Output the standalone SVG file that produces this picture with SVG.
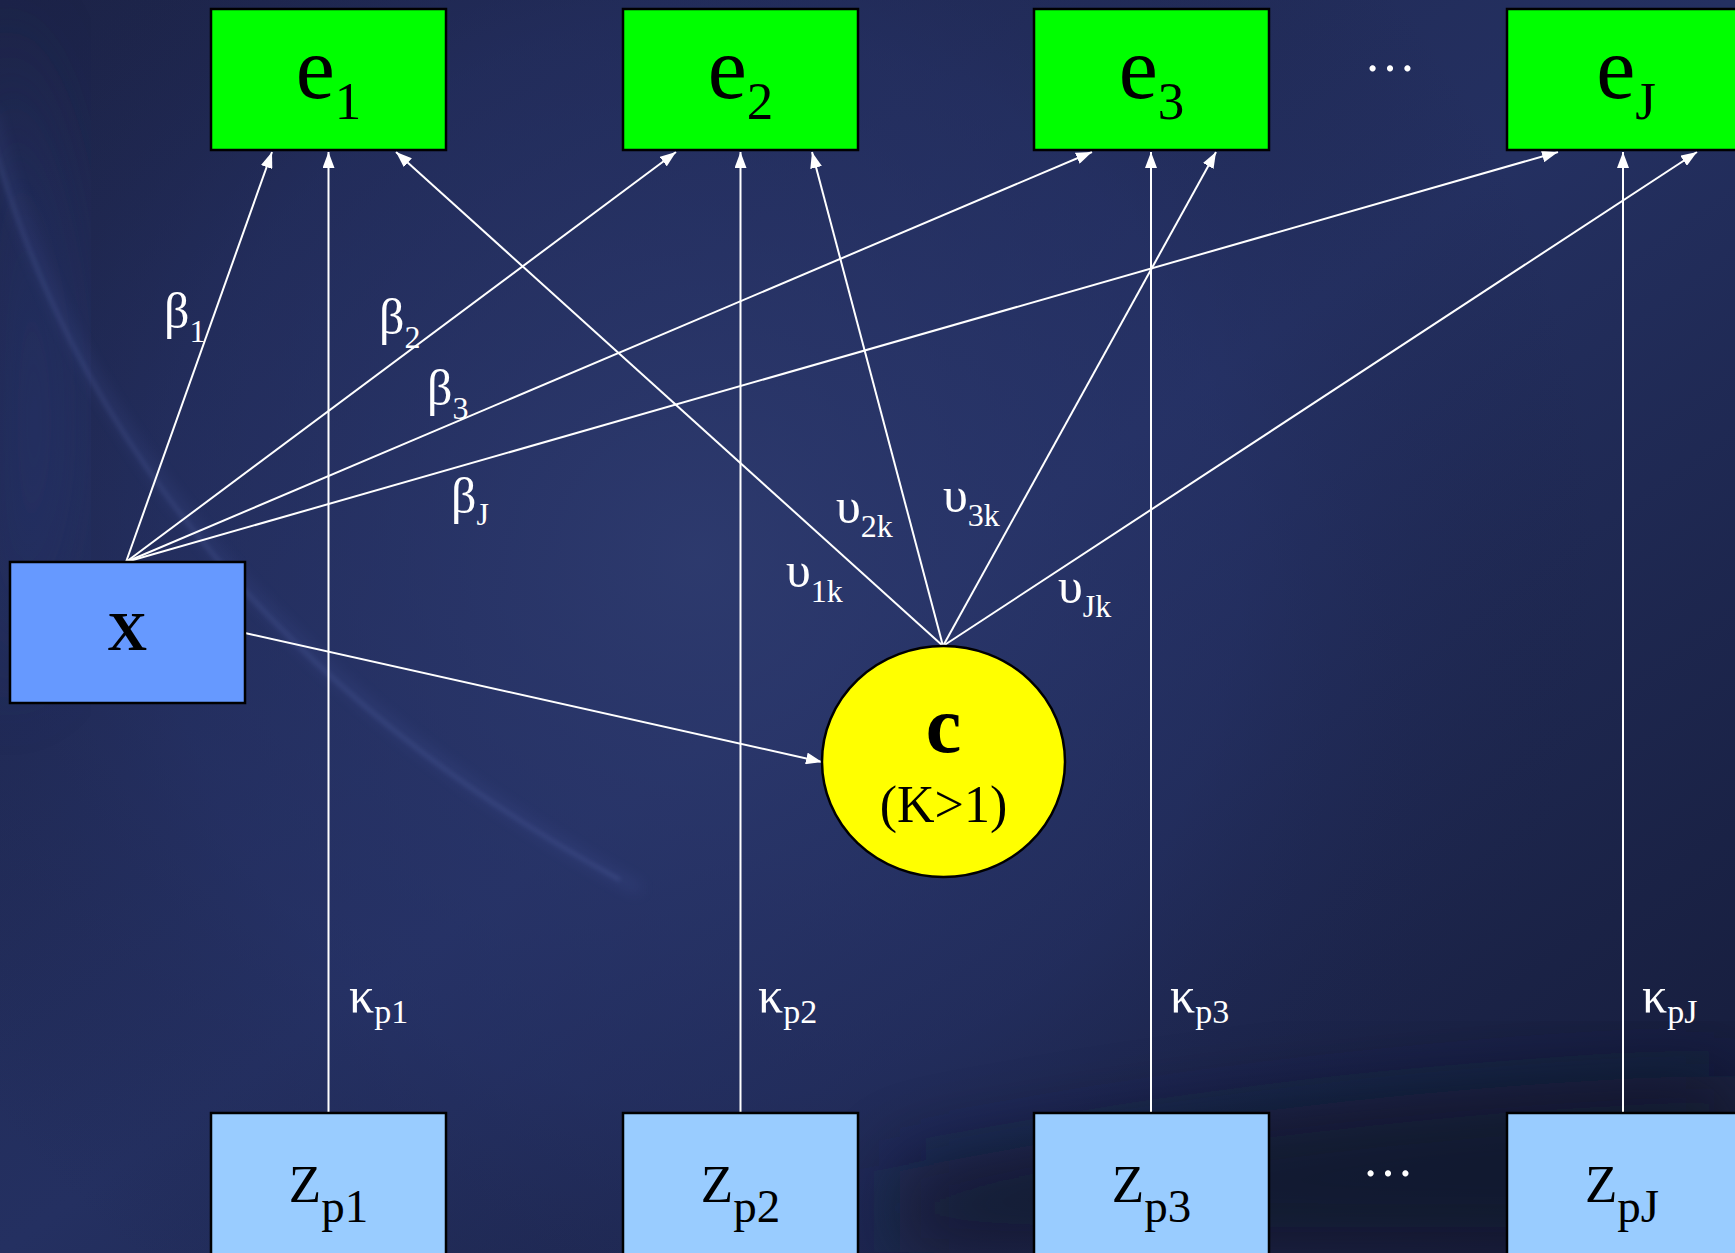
<svg xmlns="http://www.w3.org/2000/svg" width="1735" height="1253" viewBox="0 0 1735 1253">
  <defs>
    <linearGradient id="bgLin" x1="0" y1="0" x2="1" y2="1">
      <stop offset="0" stop-color="#1c2347"/>
      <stop offset="0.5" stop-color="#243061"/>
      <stop offset="1" stop-color="#151b38"/>
    </linearGradient>
    <radialGradient id="bgGlow" cx="700" cy="560" r="900" gradientUnits="userSpaceOnUse">
      <stop offset="0" stop-color="#2e3b6f" stop-opacity="0.9"/>
      <stop offset="0.6" stop-color="#27336a" stop-opacity="0.4"/>
      <stop offset="1" stop-color="#1a2045" stop-opacity="0"/>
    </radialGradient>
    <filter id="blur8" x="-20%" y="-20%" width="140%" height="140%">
      <feGaussianBlur stdDeviation="8"/>
    </filter>
    <filter id="blur3" x="-20%" y="-20%" width="140%" height="140%">
      <feGaussianBlur stdDeviation="2.5"/>
    </filter>
    <filter id="blur40" x="-30%" y="-30%" width="160%" height="160%">
      <feGaussianBlur stdDeviation="40"/>
    </filter>
    <marker id="arr" viewBox="0 0 16 12" refX="16" refY="6" markerWidth="16" markerHeight="12" markerUnits="userSpaceOnUse" orient="auto">
      <path d="M0,0 L16,6 L0,12 z" fill="#ffffff"/>
    </marker>
    <style>
      .conn line { stroke: #ffffff; stroke-width: 2; marker-end: url(#arr); }
      .box { stroke: #000000; stroke-width: 2.5; }
      .eBox { fill: #00ff00; }
      .zBox { fill: #99ccff; }
      .xBox { fill: #6699ff; }
      .node text { font-family: "Liberation Serif", "Times New Roman", serif; fill: #000000; text-anchor: middle; }
      .lbl { font-family: "Liberation Serif", "Times New Roman", serif; fill: #ffffff; }
    </style>
  </defs>

  <!-- background -->
  <g id="background">
    <rect x="0" y="0" width="1735" height="1253" fill="url(#bgLin)"/>
    <rect x="0" y="0" width="1735" height="1253" fill="url(#bgGlow)"/>
    <path d="M0,0 L0,700 C120,500 60,250 0,0 z" fill="#2c3a78" opacity="0.5" filter="url(#blur40)"/>
    <path d="M900,1170 C1200,1110 1500,1080 1735,1075 L1735,1253 L900,1253 z" fill="#0d1228" opacity="0.65" filter="url(#blur40)"/>
    <path d="M-10,110 C40,330 200,650 640,890" fill="none" stroke="#5468b8" stroke-width="6" opacity="0.3" filter="url(#blur8)"/>
    <path d="M-10,130 C45,340 200,650 620,880" fill="none" stroke="#7d8fd8" stroke-width="2" opacity="0.3" filter="url(#blur3)"/>
  </g>

  <!-- connectors -->
  <g id="connectors" class="conn">
    <line x1="126" y1="562" x2="272" y2="152"/>
    <line x1="126" y1="562" x2="676" y2="152"/>
    <line x1="126" y1="562" x2="1092" y2="152"/>
    <line x1="126" y1="562" x2="1558" y2="152"/>
    <line x1="245" y1="633" x2="822" y2="762"/>
    <line x1="943" y1="646" x2="396" y2="152"/>
    <line x1="943" y1="646" x2="812" y2="152"/>
    <line x1="943" y1="646" x2="1216" y2="152"/>
    <line x1="943" y1="646" x2="1697" y2="152"/>
    <line x1="328.5" y1="1113" x2="328.5" y2="152"/>
    <line x1="740.5" y1="1113" x2="740.5" y2="152"/>
    <line x1="1151" y1="1113" x2="1151" y2="152"/>
    <line x1="1623" y1="1113" x2="1623" y2="152"/>
  </g>

  <!-- edge labels -->
  <g id="labels" class="lbl">
    <text x="164" y="328" font-size="50">β<tspan font-size="32" dy="14">1</tspan></text>
    <text x="379" y="334" font-size="50">β<tspan font-size="32" dy="14">2</tspan></text>
    <text x="427" y="405" font-size="50">β<tspan font-size="32" dy="14">3</tspan></text>
    <text x="451" y="513" font-size="50">β<tspan font-size="32" dy="12">J</tspan></text>
    <text x="786" y="587" font-size="50">υ<tspan font-size="32" dy="15">1k</tspan></text>
    <text x="836" y="523" font-size="50">υ<tspan font-size="32" dy="14">2k</tspan></text>
    <text x="943" y="512" font-size="50">υ<tspan font-size="32" dy="14">3k</tspan></text>
    <text x="1058" y="603" font-size="50">υ<tspan font-size="32" dy="14">Jk</tspan></text>
    <text x="349" y="1012" font-size="50">κ<tspan font-size="34" dy="11">p1</tspan></text>
    <text x="758" y="1012" font-size="50">κ<tspan font-size="34" dy="11">p2</tspan></text>
    <text x="1170" y="1012" font-size="50">κ<tspan font-size="34" dy="11">p3</tspan></text>
    <text x="1642" y="1012" font-size="50">κ<tspan font-size="34" dy="11">pJ</tspan></text>
    <text x="1390" y="71" font-size="52" text-anchor="middle">…</text>
    <text x="1388" y="1176" font-size="52" text-anchor="middle">…</text>
  </g>

  <!-- nodes -->
  <g id="node-e1" class="node">
    <rect class="box eBox" x="211" y="9" width="235" height="141"/>
    <text x="328.5" y="98" font-size="88">e<tspan font-size="53" dy="21">1</tspan></text>
  </g>
  <g id="node-e2" class="node">
    <rect class="box eBox" x="623" y="9" width="235" height="141"/>
    <text x="740.5" y="98" font-size="88">e<tspan font-size="53" dy="21">2</tspan></text>
  </g>
  <g id="node-e3" class="node">
    <rect class="box eBox" x="1034" y="9" width="235" height="141"/>
    <text x="1151.5" y="98" font-size="88">e<tspan font-size="53" dy="21">3</tspan></text>
  </g>
  <g id="node-eJ" class="node">
    <rect class="box eBox" x="1507" y="9" width="235" height="141"/>
    <text x="1626" y="98" font-size="88">e<tspan font-size="53" dy="21">J</tspan></text>
  </g>
  <g id="node-x" class="node">
    <rect class="box xBox" x="10" y="562" width="235" height="141"/>
    <text x="127" y="650" font-size="55" font-weight="bold">X</text>
  </g>
  <g id="node-c" class="node">
    <ellipse cx="943.5" cy="761.5" rx="121.5" ry="115.5" fill="#ffff00" stroke="#000000" stroke-width="2.5"/>
    <text x="943.5" y="752" font-size="80" font-weight="bold">c</text>
    <text x="943.5" y="822" font-size="52">(K&gt;1)</text>
  </g>
  <g id="node-zp1" class="node">
    <rect class="box zBox" x="211" y="1113" width="235" height="142"/>
    <text x="328.5" y="1202" font-size="53">Z<tspan font-size="47" dy="20">p1</tspan></text>
  </g>
  <g id="node-zp2" class="node">
    <rect class="box zBox" x="623" y="1113" width="235" height="142"/>
    <text x="740.5" y="1202" font-size="53">Z<tspan font-size="47" dy="20">p2</tspan></text>
  </g>
  <g id="node-zp3" class="node">
    <rect class="box zBox" x="1034" y="1113" width="235" height="142"/>
    <text x="1151.5" y="1202" font-size="53">Z<tspan font-size="47" dy="20">p3</tspan></text>
  </g>
  <g id="node-zpJ" class="node">
    <rect class="box zBox" x="1507" y="1113" width="235" height="142"/>
    <text x="1622" y="1202" font-size="53">Z<tspan font-size="47" dy="20">pJ</tspan></text>
  </g>
</svg>
